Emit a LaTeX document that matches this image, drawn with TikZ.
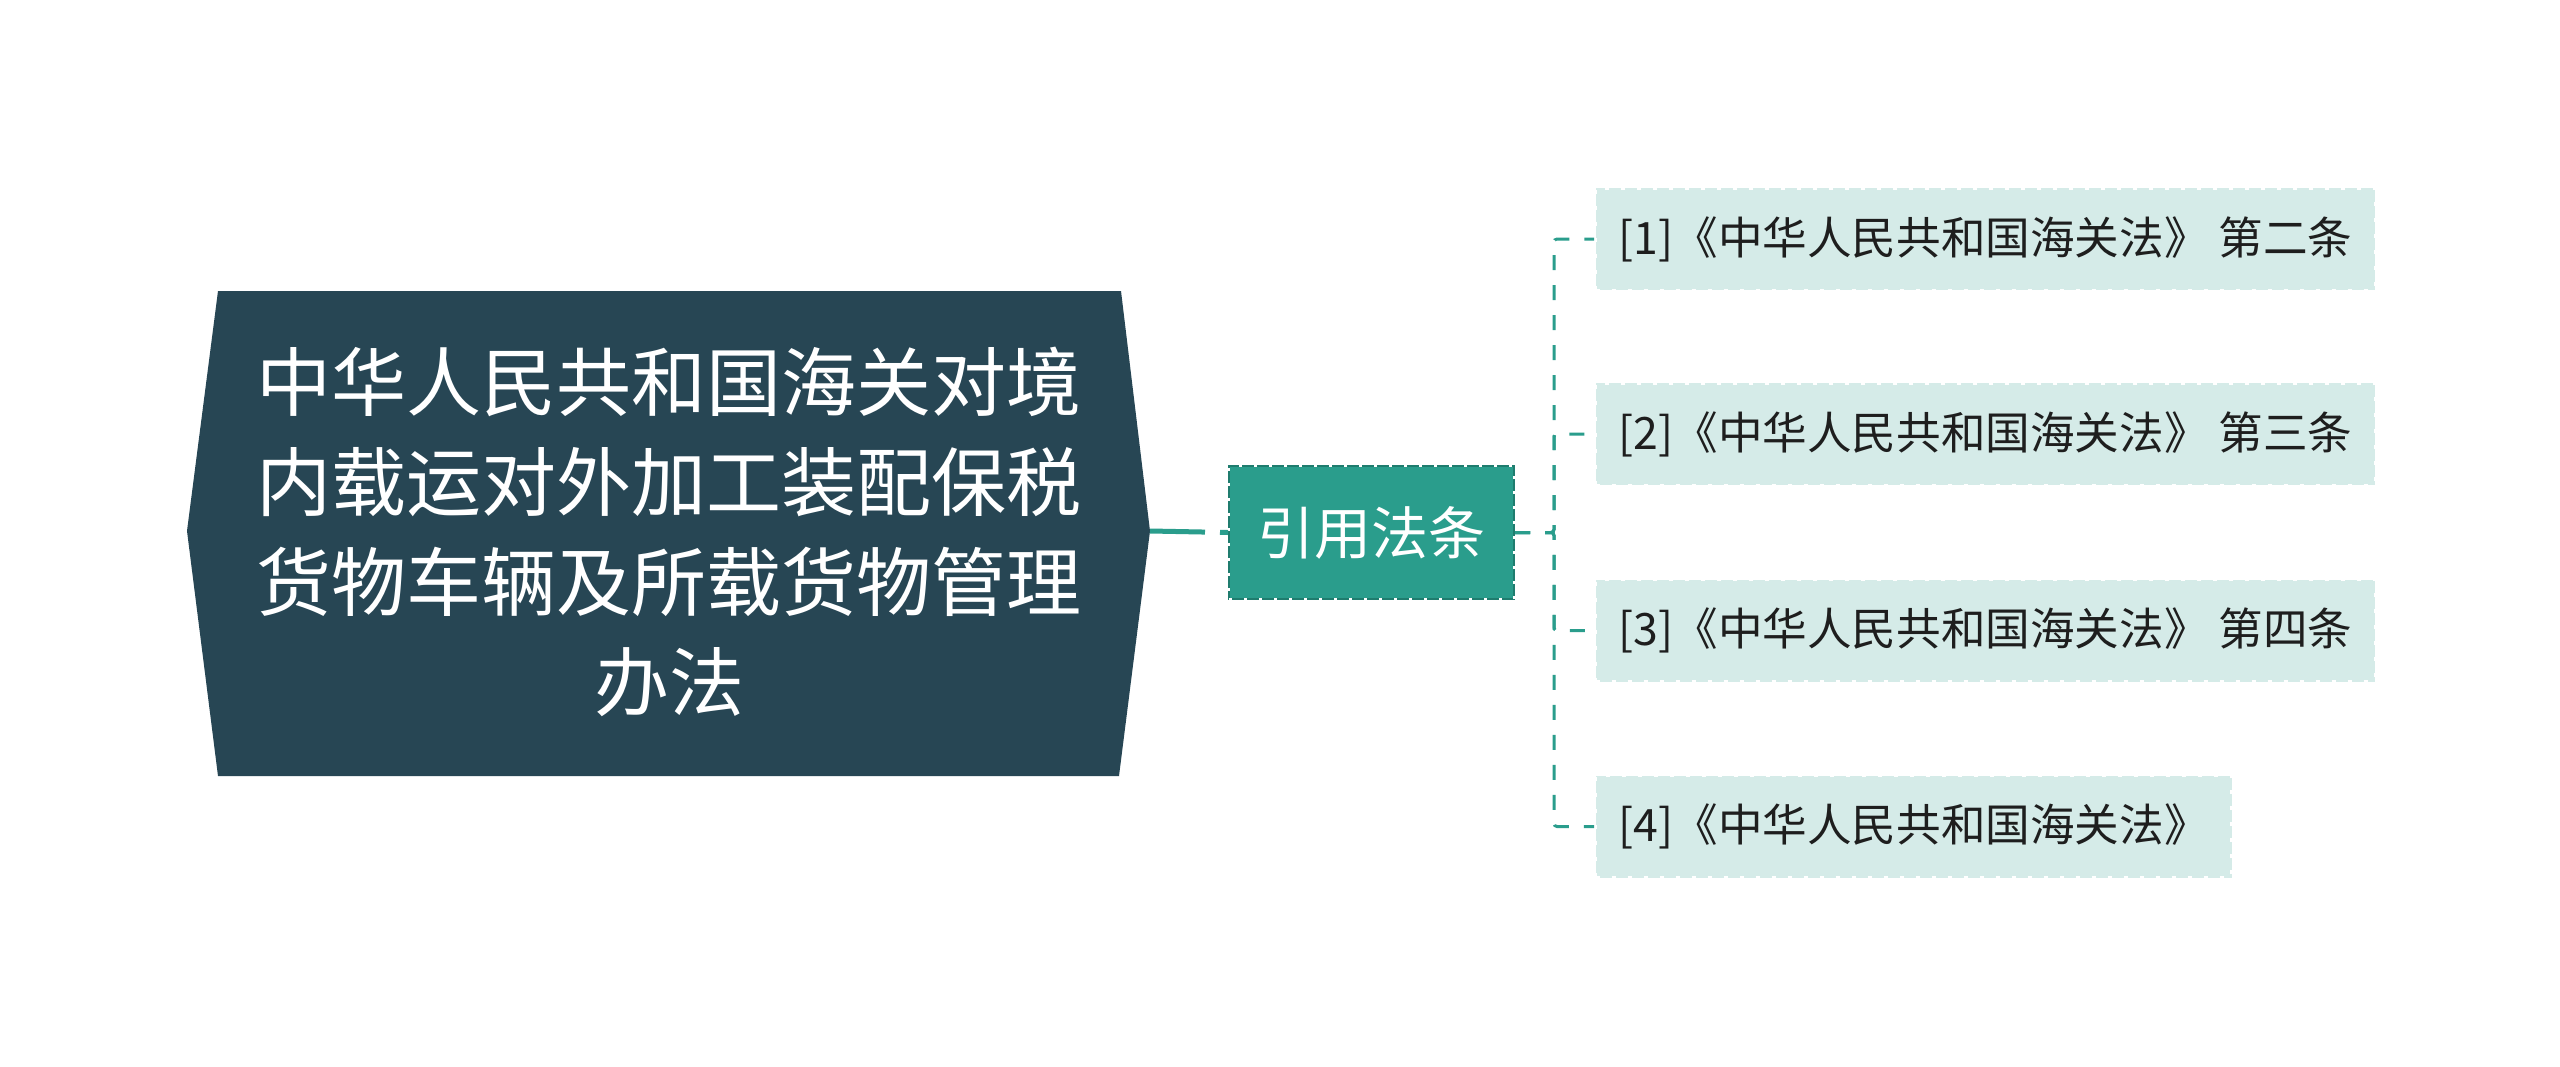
\documentclass[tikz,border=0pt]{standalone}
\usepackage{fontspec}
\setmainfont{Noto Sans CJK SC}
\definecolor{mainc}{HTML}{274654}
\definecolor{tealc}{HTML}{2A9D8C}
\definecolor{citeborder}{HTML}{1F7C6E}
\definecolor{leaffill}{HTML}{D5EBE8}
\definecolor{leaftext}{HTML}{1E1E1E}
\begin{document}
\begin{tikzpicture}[x=0.5pt,y=-0.5pt,
  maintext/.style={text=white, align=center, inner sep=0pt,
    font=\fontsize{37.5pt}{50pt}\selectfont},
  citebox/.style={fill=tealc, draw=citeborder, line width=1pt,
    minimum width=142.5pt, minimum height=66.5pt, inner sep=0pt,
    text=white, font=\fontsize{28.5pt}{34pt}\selectfont,
    postaction={draw=white, line width=0.8pt, dash pattern=on 1.5pt off 6pt}},
  leafbox/.style={fill=leaffill, draw=white, line width=1.5pt,
    dash pattern=on 2pt off 6pt,
    minimum height=51pt, inner xsep=11.5pt, inner ysep=0pt,
    text=leaftext, font=\fontsize{22.3pt}{27pt}\selectfont, anchor=west},
  mainlink/.style={draw=tealc, line width=2.5pt,
    dash pattern=on 27.5pt off 7.5pt on 5pt off 10pt},
  branch/.style={draw=tealc, line width=1.5pt,
    dash pattern=on 7.5pt off 7.5pt, rounded corners=1.5pt}]
\useasboundingbox[fill=white] (0,0) rectangle (2560,1066);
% main hexagon-like node
\fill[mainc] (218,291) -- (1121,291) -- (1150,531) -- (1119,776)
  -- (218,776) -- (187,531) -- cycle;
\node[maintext] (main) at (669,532)
  {中华人民共和国海关对境\\内载运对外加工装配保税\\货物车辆及所载货物管理\\办法};
\coordinate (mainR) at (1150,531);
% cite node
\node[citebox] (cite) at (1371.5,532.5) {引用法条};
\coordinate (trunk) at (1554,532.5);
% leaves
\node[leafbox] (l1) at (1594,239) {[1]《中华人民共和国海关法》 第二条};
\node[leafbox] (l2) at (1594,434) {[2]《中华人民共和国海关法》 第三条};
\node[leafbox] (l3) at (1594,630.5) {[3]《中华人民共和国海关法》 第四条};
\node[leafbox] (l4) at (1594,826.5) {[4]《中华人民共和国海关法》};
% connectors
\draw[mainlink] (mainR) -- (cite.west);
\draw[branch] (cite.east) -- (trunk) |- (l1.west);
\draw[branch] (cite.east) -- (trunk) |- (l2.west);
\draw[branch] (cite.east) -- (trunk) |- (l3.west);
\draw[branch] (cite.east) -- (trunk) |- (l4.west);
\end{tikzpicture}
\end{document}
